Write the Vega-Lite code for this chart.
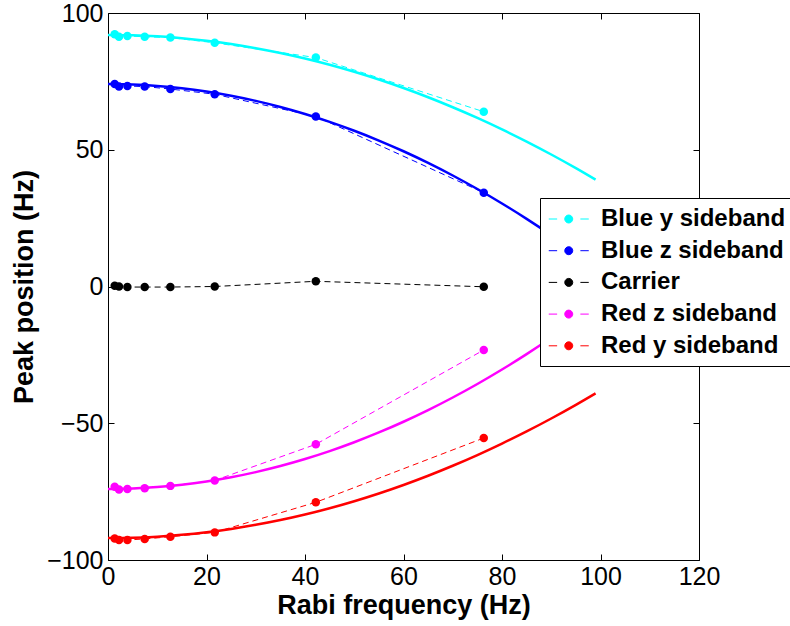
{
  "$schema": "https://vega.github.io/schema/vega-lite/v6.json",
  "width": 591,
  "height": 547,
  "autosize": {"type": "none"},
  "padding": {"left": 108, "top": 13, "right": 91, "bottom": 66},
  "background": "white",
  "config": {
    "view": {"stroke": "black", "strokeWidth": 1},
    "font": "Liberation Sans",
    "axis": {
      "grid": false,
      "domain": false,
      "tickColor": "black",
      "tickWidth": 1,
      "tickSize": -6,
      "labelFlush": false,
      "labelColor": "black",
      "labelFont": "Liberation Sans",
      "labelFontSize": 25,
      "titleFont": "Liberation Sans",
      "titleFontSize": 27,
      "titleFontWeight": "bold",
      "titleColor": "black"
    }
  },
  "datasets": {
    "points": [
      {"series": "Blue y sideband", "x": 1.36, "y": 92.2},
      {"series": "Blue y sideband", "x": 2.23, "y": 91.3},
      {"series": "Blue y sideband", "x": 3.94, "y": 91.6},
      {"series": "Blue y sideband", "x": 7.45, "y": 91.3},
      {"series": "Blue y sideband", "x": 12.67, "y": 91.0},
      {"series": "Blue y sideband", "x": 21.67, "y": 89.1},
      {"series": "Blue y sideband", "x": 42.2, "y": 83.7},
      {"series": "Blue y sideband", "x": 76.3, "y": 63.9},
      {"series": "Blue z sideband", "x": 1.36, "y": 74.0},
      {"series": "Blue z sideband", "x": 2.23, "y": 73.1},
      {"series": "Blue z sideband", "x": 3.94, "y": 73.3},
      {"series": "Blue z sideband", "x": 7.45, "y": 73.1},
      {"series": "Blue z sideband", "x": 12.67, "y": 72.2},
      {"series": "Blue z sideband", "x": 21.67, "y": 70.3},
      {"series": "Blue z sideband", "x": 42.2, "y": 62.2},
      {"series": "Blue z sideband", "x": 76.3, "y": 34.3},
      {"series": "Carrier", "x": 1.36, "y": 0.3},
      {"series": "Carrier", "x": 2.23, "y": 0.0},
      {"series": "Carrier", "x": 3.94, "y": -0.2},
      {"series": "Carrier", "x": 7.45, "y": -0.2},
      {"series": "Carrier", "x": 12.67, "y": -0.2},
      {"series": "Carrier", "x": 21.67, "y": 0.0},
      {"series": "Carrier", "x": 42.2, "y": 1.9},
      {"series": "Carrier", "x": 76.3, "y": -0.1},
      {"series": "Red z sideband", "x": 1.36, "y": -73.2},
      {"series": "Red z sideband", "x": 2.23, "y": -74.2},
      {"series": "Red z sideband", "x": 3.94, "y": -74.0},
      {"series": "Red z sideband", "x": 7.45, "y": -73.8},
      {"series": "Red z sideband", "x": 12.67, "y": -72.9},
      {"series": "Red z sideband", "x": 21.67, "y": -70.9},
      {"series": "Red z sideband", "x": 42.2, "y": -57.7},
      {"series": "Red z sideband", "x": 76.3, "y": -23.2},
      {"series": "Red y sideband", "x": 1.36, "y": -92.1},
      {"series": "Red y sideband", "x": 2.23, "y": -92.7},
      {"series": "Red y sideband", "x": 3.94, "y": -92.7},
      {"series": "Red y sideband", "x": 7.45, "y": -92.3},
      {"series": "Red y sideband", "x": 12.67, "y": -91.5},
      {"series": "Red y sideband", "x": 21.67, "y": -89.9},
      {"series": "Red y sideband", "x": 42.2, "y": -78.9},
      {"series": "Red y sideband", "x": 76.3, "y": -55.4}
    ],
    "fits": [
      {"series": "Blue y sideband", "x": 0, "y": 92.0},
      {"series": "Blue y sideband", "x": 5, "y": 91.87},
      {"series": "Blue y sideband", "x": 10, "y": 91.46},
      {"series": "Blue y sideband", "x": 15, "y": 90.79},
      {"series": "Blue y sideband", "x": 20, "y": 89.84},
      {"series": "Blue y sideband", "x": 25, "y": 88.63},
      {"series": "Blue y sideband", "x": 30, "y": 87.14},
      {"series": "Blue y sideband", "x": 35, "y": 85.39},
      {"series": "Blue y sideband", "x": 40, "y": 83.36},
      {"series": "Blue y sideband", "x": 45, "y": 81.07},
      {"series": "Blue y sideband", "x": 50, "y": 78.5},
      {"series": "Blue y sideband", "x": 55, "y": 75.67},
      {"series": "Blue y sideband", "x": 60, "y": 72.56},
      {"series": "Blue y sideband", "x": 65, "y": 69.19},
      {"series": "Blue y sideband", "x": 70, "y": 65.54},
      {"series": "Blue y sideband", "x": 75, "y": 61.63},
      {"series": "Blue y sideband", "x": 80, "y": 57.44},
      {"series": "Blue y sideband", "x": 85, "y": 52.99},
      {"series": "Blue y sideband", "x": 90, "y": 48.26},
      {"series": "Blue y sideband", "x": 95, "y": 43.27},
      {"series": "Blue y sideband", "x": 99, "y": 39.07},
      {"series": "Blue z sideband", "x": 0, "y": 74.0},
      {"series": "Blue z sideband", "x": 5, "y": 73.83},
      {"series": "Blue z sideband", "x": 10, "y": 73.32},
      {"series": "Blue z sideband", "x": 15, "y": 72.47},
      {"series": "Blue z sideband", "x": 20, "y": 71.27},
      {"series": "Blue z sideband", "x": 25, "y": 69.74},
      {"series": "Blue z sideband", "x": 30, "y": 67.86},
      {"series": "Blue z sideband", "x": 35, "y": 65.65},
      {"series": "Blue z sideband", "x": 40, "y": 63.09},
      {"series": "Blue z sideband", "x": 45, "y": 60.19},
      {"series": "Blue z sideband", "x": 50, "y": 56.95},
      {"series": "Blue z sideband", "x": 55, "y": 53.37},
      {"series": "Blue z sideband", "x": 60, "y": 49.45},
      {"series": "Blue z sideband", "x": 65, "y": 45.19},
      {"series": "Blue z sideband", "x": 70, "y": 40.58},
      {"series": "Blue z sideband", "x": 75, "y": 35.64},
      {"series": "Blue z sideband", "x": 80, "y": 30.35},
      {"series": "Blue z sideband", "x": 85, "y": 24.73},
      {"series": "Blue z sideband", "x": 90, "y": 18.76},
      {"series": "Blue z sideband", "x": 95, "y": 12.45},
      {"series": "Blue z sideband", "x": 99, "y": 7.16},
      {"series": "Red z sideband", "x": 0, "y": -74.0},
      {"series": "Red z sideband", "x": 5, "y": -73.83},
      {"series": "Red z sideband", "x": 10, "y": -73.32},
      {"series": "Red z sideband", "x": 15, "y": -72.47},
      {"series": "Red z sideband", "x": 20, "y": -71.27},
      {"series": "Red z sideband", "x": 25, "y": -69.74},
      {"series": "Red z sideband", "x": 30, "y": -67.86},
      {"series": "Red z sideband", "x": 35, "y": -65.65},
      {"series": "Red z sideband", "x": 40, "y": -63.09},
      {"series": "Red z sideband", "x": 45, "y": -60.19},
      {"series": "Red z sideband", "x": 50, "y": -56.95},
      {"series": "Red z sideband", "x": 55, "y": -53.37},
      {"series": "Red z sideband", "x": 60, "y": -49.45},
      {"series": "Red z sideband", "x": 65, "y": -45.19},
      {"series": "Red z sideband", "x": 70, "y": -40.58},
      {"series": "Red z sideband", "x": 75, "y": -35.64},
      {"series": "Red z sideband", "x": 80, "y": -30.35},
      {"series": "Red z sideband", "x": 85, "y": -24.73},
      {"series": "Red z sideband", "x": 90, "y": -18.76},
      {"series": "Red z sideband", "x": 95, "y": -12.45},
      {"series": "Red z sideband", "x": 99, "y": -7.16},
      {"series": "Red y sideband", "x": 0, "y": -92.0},
      {"series": "Red y sideband", "x": 5, "y": -91.87},
      {"series": "Red y sideband", "x": 10, "y": -91.46},
      {"series": "Red y sideband", "x": 15, "y": -90.79},
      {"series": "Red y sideband", "x": 20, "y": -89.84},
      {"series": "Red y sideband", "x": 25, "y": -88.63},
      {"series": "Red y sideband", "x": 30, "y": -87.14},
      {"series": "Red y sideband", "x": 35, "y": -85.39},
      {"series": "Red y sideband", "x": 40, "y": -83.36},
      {"series": "Red y sideband", "x": 45, "y": -81.07},
      {"series": "Red y sideband", "x": 50, "y": -78.5},
      {"series": "Red y sideband", "x": 55, "y": -75.67},
      {"series": "Red y sideband", "x": 60, "y": -72.56},
      {"series": "Red y sideband", "x": 65, "y": -69.19},
      {"series": "Red y sideband", "x": 70, "y": -65.54},
      {"series": "Red y sideband", "x": 75, "y": -61.63},
      {"series": "Red y sideband", "x": 80, "y": -57.44},
      {"series": "Red y sideband", "x": 85, "y": -52.99},
      {"series": "Red y sideband", "x": 90, "y": -48.26},
      {"series": "Red y sideband", "x": 95, "y": -43.27},
      {"series": "Red y sideband", "x": 99, "y": -39.07}
    ]
  },
  "layer": [
    {
      "data": {"name": "points"},
      "mark": {"type": "line", "strokeWidth": 1, "strokeDash": [6, 4]},
      "encoding": {
        "x": {"field": "x", "type": "quantitative", "scale": {"domain": [0, 120], "nice": false},
              "axis": {"orient": "top", "values": [0, 20, 40, 60, 80, 100, 120], "labels": false, "title": null}},
        "y": {"field": "y", "type": "quantitative", "scale": {"domain": [-100, 100], "nice": false},
              "axis": {"orient": "right", "values": [-100, -50, 0, 50, 100], "labels": false, "title": null}},
        "color": {"field": "series", "type": "nominal"}
      }
    },
    {
      "data": {"name": "fits"},
      "mark": {"type": "line", "strokeWidth": 2.5, "interpolate": "monotone"},
      "encoding": {
        "x": {"field": "x", "type": "quantitative",
              "axis": {"orient": "bottom", "values": [0, 20, 40, 60, 80, 100, 120], "title": "Rabi frequency (Hz)", "labelPadding": 10, "titlePadding": 3}},
        "y": {"field": "y", "type": "quantitative",
              "axis": {"orient": "left", "values": [-100, -50, 0, 50, 100], "title": "Peak position (Hz)", "labelPadding": 11, "titlePadding": 8}},
        "color": {"field": "series", "type": "nominal"}
      }
    },
    {
      "data": {"name": "points"},
      "mark": {"type": "point", "filled": true, "shape": "circle", "size": 72, "opacity": 1},
      "encoding": {
        "x": {"field": "x", "type": "quantitative", "axis": null},
        "y": {"field": "y", "type": "quantitative", "axis": null},
        "color": {
          "field": "series", "type": "nominal",
          "scale": {
            "domain": ["Blue y sideband", "Blue z sideband", "Carrier", "Red z sideband", "Red y sideband"],
            "range": ["#00FFFF", "#0000FF", "#000000", "#FF00FF", "#FF0000"]
          },
          "legend": {
            "orient": "none",
            "legendX": 432,
            "legendY": 185,
            "title": null,
            "direction": "vertical",
            "labelFont": "Liberation Sans",
            "labelFontSize": 24,
            "labelFontWeight": "bold",
            "labelColor": "black",
            "labelOffset": 27,
            "labelLimit": 0,
            "symbolType": "M-0.98,0L-0.31,0M1.55,0L2.22,0M0.94,0A0.32,0.32,0,1,1,0.30,0A0.32,0.32,0,1,1,0.94,0Z",
            "symbolSize": 625,
            "symbolStrokeWidth": 1,
            "symbolOpacity": 1,
            "rowPadding": 6.7,
            "padding": 8,
            "strokeColor": "black",
            "fillColor": "white",
            "cornerRadius": 0,
            "encode": {
              "symbols": {
                "update": {
                  "fill": {"scale": "color", "field": "value"},
                  "stroke": {"scale": "color", "field": "value"},
                  "opacity": {"value": 1}
                }
              }
            }
          }
        }
      }
    }
  ],
  "resolve": {"axis": {"x": "independent", "y": "independent"}}
}
